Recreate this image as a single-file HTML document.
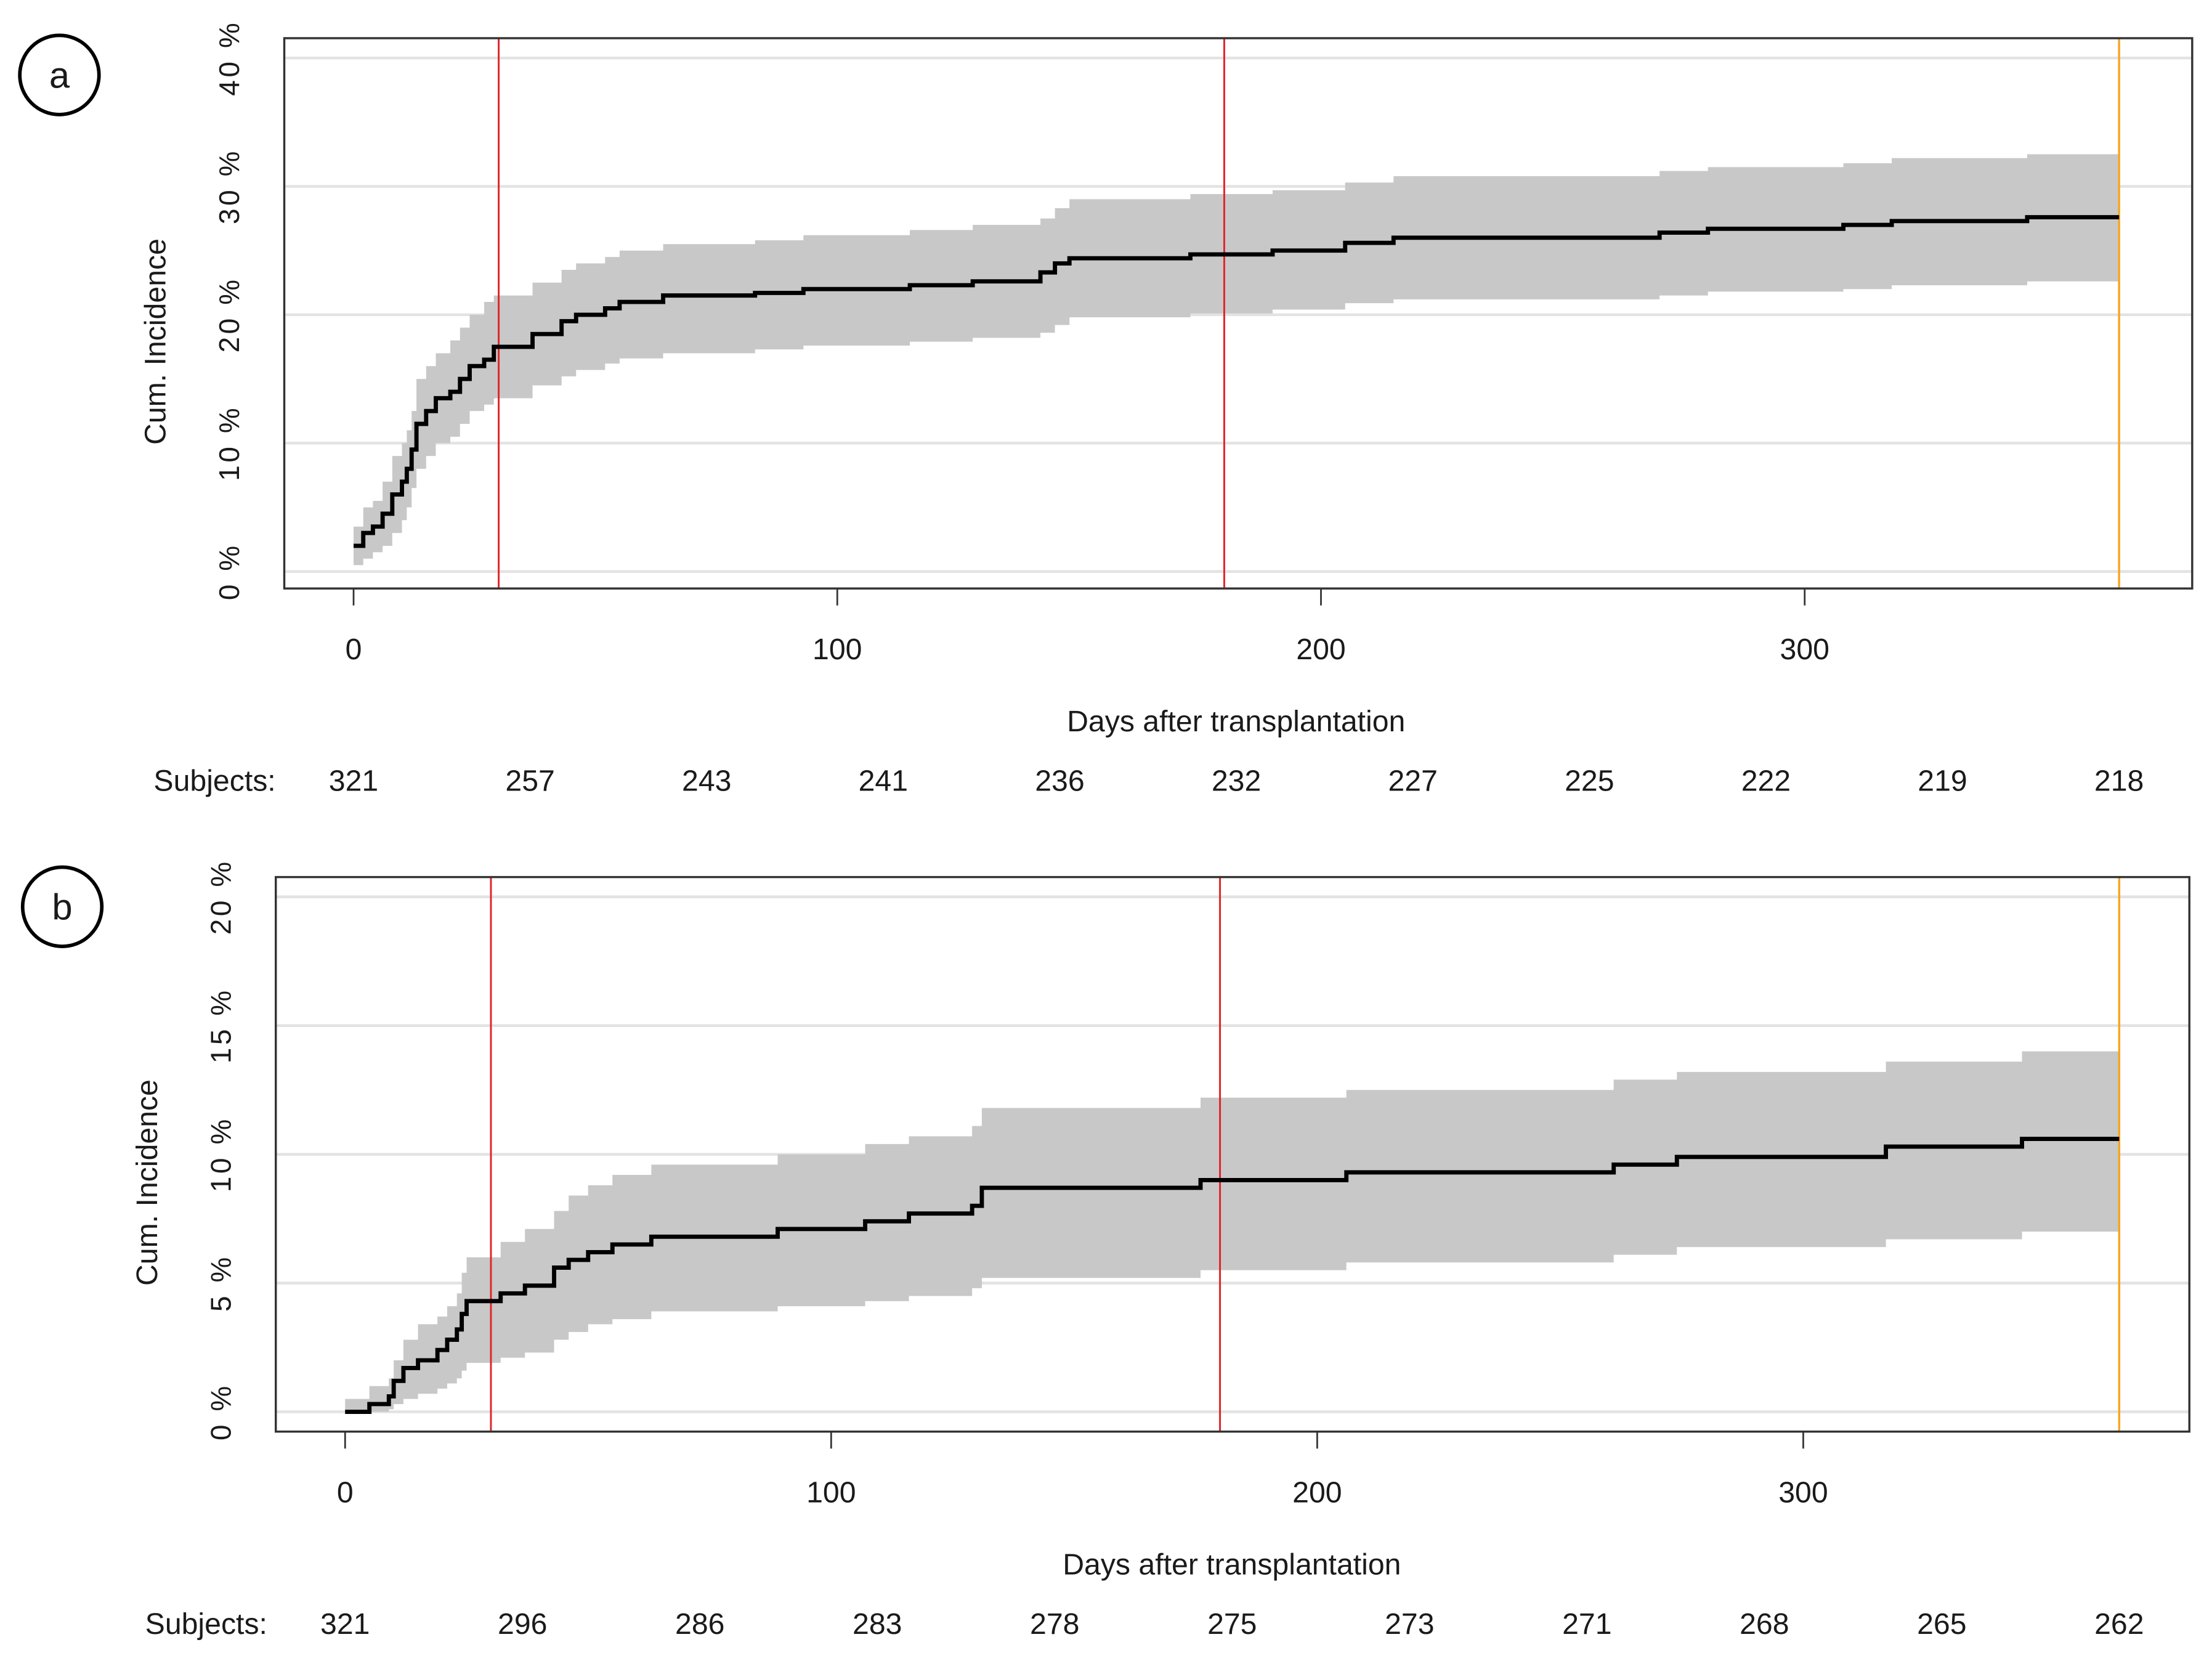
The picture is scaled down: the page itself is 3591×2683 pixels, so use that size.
<!DOCTYPE html>
<html><head><meta charset="utf-8"><style>
html,body{margin:0;padding:0;background:#fff;}
svg{display:block;}
text{font-family:"Liberation Sans",Arial,sans-serif;fill:#1a1a1a;}
</style></head><body>
<svg id="fig" width="3591" height="2683" viewBox="0 0 1564 1168.5" preserveAspectRatio="none" xmlns="http://www.w3.org/2000/svg"></svg>
<script>
// Panel a data
const aDays = [0,2,4,6,8,10,11,12,13,15,17,20,22,24,27,29,37,43,46,52,55,64,83,93,115,128,142,145,148,173,190,205,215,270,280,308,318,346,365];
const aEst  = [2,3,3.5,4.5,6,7,8,9.5,11.5,12.5,13.5,14,15,16,16.5,17.5,18.5,19.5,20,20.5,21,21.5,21.7,22,22.3,22.6,23.3,24,24.4,24.7,25,25.6,26,26.4,26.7,27,27.3,27.6,27.6];
const aLo   = [0.5,1,1.5,2,3,4,5,6.5,8,9,10,10.5,11.5,12.5,13,13.5,14.5,15.2,15.7,16.2,16.6,17,17.3,17.6,17.9,18.2,18.6,19.2,19.8,20.1,20.4,20.9,21.2,21.5,21.8,22,22.3,22.6,22.8];
const aHi   = [3.5,5,5.5,7,9,10,11,12.5,15,16,17,18,19,20,21,21.5,22.5,23.5,24,24.5,25,25.5,25.8,26.2,26.6,27,27.5,28.3,29,29.4,29.7,30.3,30.8,31.2,31.5,31.8,32.2,32.5,32.5];
const aSubjects = ["321","257","243","241","236","232","227","225","222","219","218"];
const aYTicks = [0,10,20,30,40];
// Panel b data
const bDays = [0,5,9,10,12,15,19,21,23,24,25,32,37,43,46,50,55,63,89,107,116,129,131,176,206,261,274,317,345,365];
const bEst  = [0,0.3,0.6,1.2,1.7,2,2.4,2.8,3.2,3.8,4.3,4.6,4.9,5.6,5.9,6.2,6.5,6.8,7.1,7.4,7.7,8,8.7,9,9.3,9.6,9.9,10.3,10.6,10.6];
const bLo   = [0,0,0.1,0.3,0.5,0.7,0.9,1.1,1.3,1.6,1.9,2.1,2.3,2.8,3.1,3.4,3.6,3.9,4.1,4.3,4.5,4.8,5.2,5.5,5.8,6.1,6.4,6.7,7,7.3];
const bHi   = [0.5,1,1.3,2,2.8,3.4,3.7,4.1,4.6,5.4,6,6.6,7.1,7.8,8.4,8.8,9.2,9.6,10,10.4,10.7,11.1,11.8,12.2,12.5,12.9,13.2,13.6,14,14];
const bSubjects = ["321","296","286","283","278","275","273","271","268","265","262"];
const bYTicks = [0,5,10,15,20];
const xTicks = [0,100,200,300];
const refDays = [30,180];

const NS="http://www.w3.org/2000/svg";
const svg=document.getElementById('fig');
function mk(tag,attrs,parent,txt){const e=document.createElementNS(NS,tag);for(const k in attrs)e.setAttribute(k,attrs[k]);if(txt!==undefined)e.textContent=txt;(parent||svg).appendChild(e);return e;}
function stepPath(xs,ys,xf,yf,endDay){let d='M'+xf(xs[0])+','+yf(ys[0]);for(let i=1;i<xs.length;i++){d+=' H'+xf(xs[i])+' V'+yf(ys[i]);}d+=' H'+xf(endDay);return d;}

function panel(cfg){
  const g=mk('g',{});
  
  
  const xf=d=>cfg.x0+d*cfg.xs;
  const yf=v=>cfg.y0-v*cfg.ys;
  // grid
  cfg.yt.forEach(t=>{const l=mk('line',{x1:cfg.bx1,x2:cfg.bx2,y1:yf(t),y2:yf(t),stroke:'#e3e3e3','stroke-width':2},g);
    });
  // band
  let d='M'+xf(cfg.days[0])+','+yf(cfg.hi[0]);
  for(let i=1;i<cfg.days.length;i++){d+=' H'+xf(cfg.days[i])+' V'+yf(cfg.hi[i]);}
  d+=' H'+xf(365)+' V'+yf(cfg.lo[cfg.lo.length-1]);
  for(let i=cfg.days.length-1;i>0;i--){d+=' H'+xf(cfg.days[i])+' V'+yf(cfg.lo[i-1]);}
  d+=' H'+xf(cfg.days[0])+' Z';
  const band=mk('path',{d:d,fill:'#c8c8c8',stroke:'none'},g);
  
  // ref lines
  refDays.forEach(r=>{const l=mk('line',{x1:xf(r),x2:xf(r),y1:cfg.by1,y2:cfg.by2,stroke:'#e0262a','stroke-width':1.3},g);
    });
  const o=mk('line',{x1:xf(365),x2:xf(365),y1:cfg.by1,y2:cfg.by2,stroke:'#f5a623','stroke-width':1.5},g);
  
  // curve
  const c=mk('path',{d:stepPath(cfg.days,cfg.est,xf,yf,365),fill:'none',stroke:'#000','stroke-width':3},g);
  
  // box
  const b=mk('rect',{x:cfg.bx1,y:cfg.by1,width:cfg.bx2-cfg.bx1,height:cfg.by2-cfg.by1,fill:'none',stroke:'#333','stroke-width':1.5},g);
  
  // x ticks
  xTicks.forEach(t=>{mk('line',{x1:xf(t),x2:xf(t),y1:cfg.by2,y2:cfg.by2+12,stroke:'#333','stroke-width':1.2},g);
    const tx=mk('text',{x:xf(t),y:cfg.by2+50,'font-size':21,'text-anchor':'middle'},g,String(t));
    });
  // y tick labels
  cfg.yt.forEach(t=>{const tx=mk('text',{x:0,y:0,'font-size':20,'text-anchor':'middle','letter-spacing':'2',transform:'translate('+(cfg.bx1-32)+','+yf(t)+') rotate(-90)'},g,t+' %');
    });
  const yt=mk('text',{x:0,y:0,'font-size':21,'text-anchor':'middle',transform:'translate('+(cfg.bx1-84)+','+((cfg.by1+cfg.by2)/2+20)+') rotate(-90)'},g,'Cum. Incidence');
  
  const xt=mk('text',{x:cfg.titleX,y:cfg.by2+101,'font-size':21,'text-anchor':'middle'},g,'Days after transplantation');
  
  const sl=mk('text',{x:cfg.x0-55,y:cfg.by2+143,'font-size':21,'text-anchor':'end'},g,'Subjects:');
  
  cfg.subj.forEach((s,i)=>{const tx=mk('text',{x:xf(i*36.5),y:cfg.by2+143,'font-size':21,'text-anchor':'middle'},g,s);
    });
  // circle label
  const cg=mk('g',{},g);
  
  mk('circle',{cx:cfg.cx,cy:cfg.cy,r:28,fill:'none',stroke:'#000','stroke-width':2.5},cg);
  mk('text',{x:cfg.cx,y:cfg.cy+9,'font-size':26,'text-anchor':'middle'},cg,cfg.letter);
}
panel({name:'panel-a',days:aDays,est:aEst,lo:aLo,hi:aHi,subj:aSubjects,yt:aYTicks,
  x0:250,xs:(1276-250)/300,y0:404,ys:(404-41)/40,bx1:201,bx2:1550,by1:27,by2:416,titleX:874,cx:42,cy:53,letter:'a'});
panel({name:'panel-b',days:bDays,est:bEst,lo:bLo,hi:bHi,subj:bSubjects,yt:bYTicks,
  x0:244,xs:(1275-244)/300,y0:998,ys:(998-634)/20,bx1:195,bx2:1548,by1:620,by2:1012,titleX:871,cx:44,cy:641,letter:'b'});
</script>
</body></html>
